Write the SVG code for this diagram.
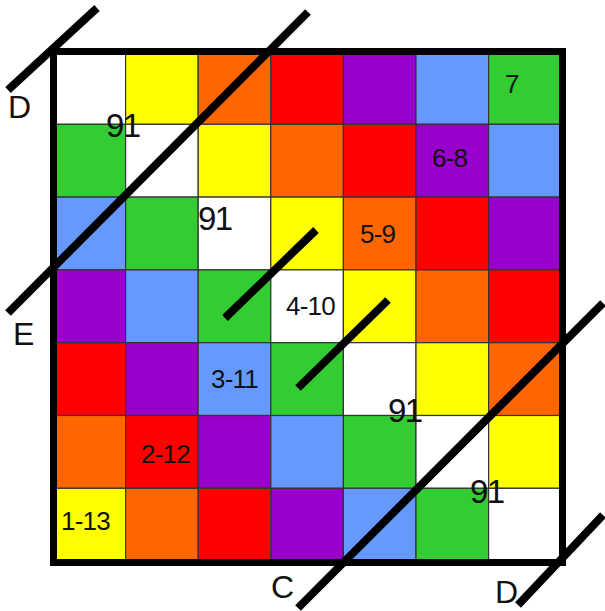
<svg xmlns="http://www.w3.org/2000/svg" width="605" height="611" viewBox="0 0 605 611">
<style>
.c{stroke:#333;stroke-width:1.2}
.w{fill:#ffffff}.y{fill:#ffff00}.o{fill:#ff6600}.r{fill:#ff0000}.p{fill:#9900cc}.b{fill:#6699ff}.g{fill:#33cc33}
.t{font-family:"Liberation Sans",Arial,sans-serif;fill:#111}
.big{font-size:33px;letter-spacing:-1.5px}.lab{font-size:26px;letter-spacing:-0.8px}.let{font-size:32px}
.ln{stroke:#000;stroke-width:8;fill:none;stroke-linecap:butt}
</style>
<rect width="605" height="611" fill="#fff"/>
<g id="grid">
<g transform="translate(53,51.5)">
<rect class="c w" x="0" y="0" width="72.6" height="72.8"/>
<rect class="c y" x="72.6" y="0" width="72.6" height="72.8"/>
<rect class="c o" x="145.2" y="0" width="72.6" height="72.8"/>
<rect class="c r" x="217.8" y="0" width="72.6" height="72.8"/>
<rect class="c p" x="290.4" y="0" width="72.6" height="72.8"/>
<rect class="c b" x="363" y="0" width="72.6" height="72.8"/>
<rect class="c g" x="435.6" y="0" width="72.6" height="72.8"/>
<rect class="c g" x="0" y="72.8" width="72.6" height="72.8"/>
<rect class="c w" x="72.6" y="72.8" width="72.6" height="72.8"/>
<rect class="c y" x="145.2" y="72.8" width="72.6" height="72.8"/>
<rect class="c o" x="217.8" y="72.8" width="72.6" height="72.8"/>
<rect class="c r" x="290.4" y="72.8" width="72.6" height="72.8"/>
<rect class="c p" x="363" y="72.8" width="72.6" height="72.8"/>
<rect class="c b" x="435.6" y="72.8" width="72.6" height="72.8"/>
<rect class="c b" x="0" y="145.6" width="72.6" height="72.8"/>
<rect class="c g" x="72.6" y="145.6" width="72.6" height="72.8"/>
<rect class="c w" x="145.2" y="145.6" width="72.6" height="72.8"/>
<rect class="c y" x="217.8" y="145.6" width="72.6" height="72.8"/>
<rect class="c o" x="290.4" y="145.6" width="72.6" height="72.8"/>
<rect class="c r" x="363" y="145.6" width="72.6" height="72.8"/>
<rect class="c p" x="435.6" y="145.6" width="72.6" height="72.8"/>
<rect class="c p" x="0" y="218.4" width="72.6" height="72.8"/>
<rect class="c b" x="72.6" y="218.4" width="72.6" height="72.8"/>
<rect class="c g" x="145.2" y="218.4" width="72.6" height="72.8"/>
<rect class="c w" x="217.8" y="218.4" width="72.6" height="72.8"/>
<rect class="c y" x="290.4" y="218.4" width="72.6" height="72.8"/>
<rect class="c o" x="363" y="218.4" width="72.6" height="72.8"/>
<rect class="c r" x="435.6" y="218.4" width="72.6" height="72.8"/>
<rect class="c r" x="0" y="291.2" width="72.6" height="72.8"/>
<rect class="c p" x="72.6" y="291.2" width="72.6" height="72.8"/>
<rect class="c b" x="145.2" y="291.2" width="72.6" height="72.8"/>
<rect class="c g" x="217.8" y="291.2" width="72.6" height="72.8"/>
<rect class="c w" x="290.4" y="291.2" width="72.6" height="72.8"/>
<rect class="c y" x="363" y="291.2" width="72.6" height="72.8"/>
<rect class="c o" x="435.6" y="291.2" width="72.6" height="72.8"/>
<rect class="c o" x="0" y="364" width="72.6" height="72.8"/>
<rect class="c r" x="72.6" y="364" width="72.6" height="72.8"/>
<rect class="c p" x="145.2" y="364" width="72.6" height="72.8"/>
<rect class="c b" x="217.8" y="364" width="72.6" height="72.8"/>
<rect class="c g" x="290.4" y="364" width="72.6" height="72.8"/>
<rect class="c w" x="363" y="364" width="72.6" height="72.8"/>
<rect class="c y" x="435.6" y="364" width="72.6" height="72.8"/>
<rect class="c y" x="0" y="436.8" width="72.6" height="72.8"/>
<rect class="c o" x="72.6" y="436.8" width="72.6" height="72.8"/>
<rect class="c r" x="145.2" y="436.8" width="72.6" height="72.8"/>
<rect class="c p" x="217.8" y="436.8" width="72.6" height="72.8"/>
<rect class="c b" x="290.4" y="436.8" width="72.6" height="72.8"/>
<rect class="c g" x="363" y="436.8" width="72.6" height="72.8"/>
<rect class="c w" x="435.6" y="436.8" width="72.6" height="72.8"/>
</g>
<rect id="frame" x="53.5" y="51.5" width="509" height="511" fill="none" stroke="#000" stroke-width="7"/>
</g>
<g id="labels" class="t">
<text class="big" x="106" y="137">91</text>
<text class="big" x="198" y="230">91</text>
<text class="big" x="388" y="422">91</text>
<text class="big" x="470" y="503">91</text>
<text class="lab" x="505" y="93">7</text>
<text class="lab" x="432" y="167">6-8</text>
<text class="lab" x="360" y="243">5-9</text>
<text class="lab" x="286" y="315">4-10</text>
<text class="lab" x="211" y="388">3-11</text>
<text class="lab" x="141" y="463">2-12</text>
<text class="lab" x="61" y="530">1-13</text>
<text class="let" x="8" y="118">D</text>
<text class="let" x="13" y="345">E</text>
<text class="let" x="271" y="598">C</text>
<text class="let" x="495" y="603">D</text>
</g>
<g id="connectors">
<line class="ln" x1="8" y1="90" x2="97" y2="8"/>
<line class="ln" x1="308" y1="12" x2="8" y2="313"/>
<line class="ln" x1="603" y1="303" x2="298" y2="608"/>
<line class="ln" x1="603" y1="515" x2="518" y2="605"/>
<line class="ln" x1="225" y1="318" x2="316" y2="230"/>
<line class="ln" x1="298" y1="388" x2="388" y2="300"/>
</g>
</svg>
